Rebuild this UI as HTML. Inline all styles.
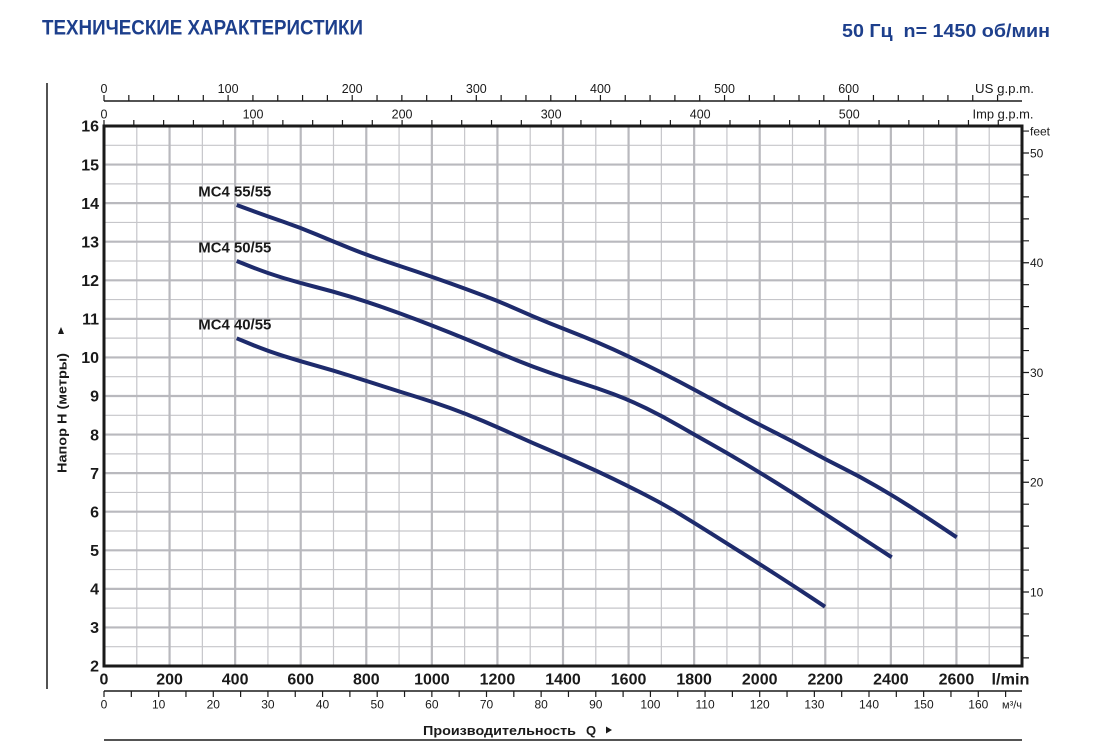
<!DOCTYPE html>
<html><head><meta charset="utf-8"><style>
html,body{margin:0;padding:0;background:#fff;}
svg{display:block;}
text{font-family:"Liberation Sans",Arial,sans-serif;fill:#1a1a1a;}
.t{fill:#1d3f8c;font-weight:bold;}
.yl{font-size:16px;font-weight:bold;text-anchor:end;}
.xl{font-size:16px;font-weight:bold;text-anchor:middle;}
.sm{font-size:12px;text-anchor:middle;}
.tp{font-size:12.5px;text-anchor:middle;}
.ft{font-size:12px;}
.mc{font-size:14.5px;font-weight:bold;}
</style></head><body>
<svg width="1100" height="750" viewBox="0 0 1100 750" xmlns="http://www.w3.org/2000/svg">
<rect width="1100" height="750" fill="#fff"/>
<text class="t" x="42" y="34.5" font-size="21" textLength="321" lengthAdjust="spacingAndGlyphs">ТЕХНИЧЕСКИЕ ХАРАКТЕРИСТИКИ</text>
<text class="t" x="842" y="37" font-size="18.5" textLength="208" lengthAdjust="spacingAndGlyphs" xml:space="preserve">50 Гц  n= 1450 об/мин</text>

<!-- left vertical line -->
<line x1="47" y1="83" x2="47" y2="689" stroke="#1a1a1a" stroke-width="1.5"/>

<!-- grid -->
<g stroke="#c6c6ca" stroke-width="1.2">
<line x1="136.79" y1="126" x2="136.79" y2="666"/><line x1="202.36" y1="126" x2="202.36" y2="666"/><line x1="267.93" y1="126" x2="267.93" y2="666"/><line x1="333.5" y1="126" x2="333.5" y2="666"/><line x1="399.07" y1="126" x2="399.07" y2="666"/><line x1="464.64" y1="126" x2="464.64" y2="666"/><line x1="530.21" y1="126" x2="530.21" y2="666"/><line x1="595.79" y1="126" x2="595.79" y2="666"/><line x1="661.36" y1="126" x2="661.36" y2="666"/><line x1="726.93" y1="126" x2="726.93" y2="666"/><line x1="792.5" y1="126" x2="792.5" y2="666"/><line x1="858.07" y1="126" x2="858.07" y2="666"/><line x1="923.64" y1="126" x2="923.64" y2="666"/><line x1="989.21" y1="126" x2="989.21" y2="666"/>
<line x1="104" y1="646.71" x2="1022" y2="646.71"/><line x1="104" y1="608.14" x2="1022" y2="608.14"/><line x1="104" y1="569.57" x2="1022" y2="569.57"/><line x1="104" y1="531" x2="1022" y2="531"/><line x1="104" y1="492.43" x2="1022" y2="492.43"/><line x1="104" y1="453.86" x2="1022" y2="453.86"/><line x1="104" y1="415.29" x2="1022" y2="415.29"/><line x1="104" y1="376.71" x2="1022" y2="376.71"/><line x1="104" y1="338.14" x2="1022" y2="338.14"/><line x1="104" y1="299.57" x2="1022" y2="299.57"/><line x1="104" y1="261" x2="1022" y2="261"/><line x1="104" y1="222.43" x2="1022" y2="222.43"/><line x1="104" y1="183.86" x2="1022" y2="183.86"/><line x1="104" y1="145.29" x2="1022" y2="145.29"/>
</g>
<g stroke="#b9b9be" stroke-width="2.2">
<line x1="169.57" y1="126" x2="169.57" y2="666"/><line x1="235.14" y1="126" x2="235.14" y2="666"/><line x1="300.71" y1="126" x2="300.71" y2="666"/><line x1="366.29" y1="126" x2="366.29" y2="666"/><line x1="431.86" y1="126" x2="431.86" y2="666"/><line x1="497.43" y1="126" x2="497.43" y2="666"/><line x1="563" y1="126" x2="563" y2="666"/><line x1="628.57" y1="126" x2="628.57" y2="666"/><line x1="694.14" y1="126" x2="694.14" y2="666"/><line x1="759.71" y1="126" x2="759.71" y2="666"/><line x1="825.29" y1="126" x2="825.29" y2="666"/><line x1="890.86" y1="126" x2="890.86" y2="666"/><line x1="956.43" y1="126" x2="956.43" y2="666"/>
<line x1="104" y1="627.43" x2="1022" y2="627.43"/><line x1="104" y1="588.86" x2="1022" y2="588.86"/><line x1="104" y1="550.29" x2="1022" y2="550.29"/><line x1="104" y1="511.71" x2="1022" y2="511.71"/><line x1="104" y1="473.14" x2="1022" y2="473.14"/><line x1="104" y1="434.57" x2="1022" y2="434.57"/><line x1="104" y1="396" x2="1022" y2="396"/><line x1="104" y1="357.43" x2="1022" y2="357.43"/><line x1="104" y1="318.86" x2="1022" y2="318.86"/><line x1="104" y1="280.29" x2="1022" y2="280.29"/><line x1="104" y1="241.71" x2="1022" y2="241.71"/><line x1="104" y1="203.14" x2="1022" y2="203.14"/><line x1="104" y1="164.57" x2="1022" y2="164.57"/>
</g>

<!-- plot border -->
<rect x="104" y="126" width="918" height="540" fill="none" stroke="#1a1a1a" stroke-width="3"/>

<!-- top US gpm axis -->
<line x1="104" y1="101" x2="1022" y2="101" stroke="#1a1a1a" stroke-width="1.5"/>
<path stroke="#1a1a1a" stroke-width="1.2" d="M104 95V101M128.82 95V101M153.64 95V101M178.46 95V101M203.29 95V101M228.11 95V101M252.93 95V101M277.75 95V101M302.57 95V101M327.39 95V101M352.21 95V101M377.04 95V101M401.86 95V101M426.68 95V101M451.5 95V101M476.32 95V101M501.14 95V101M525.96 95V101M550.79 95V101M575.61 95V101M600.43 95V101M625.25 95V101M650.07 95V101M674.89 95V101M699.71 95V101M724.54 95V101M749.36 95V101M774.18 95V101M799 95V101M823.82 95V101M848.64 95V101M873.46 95V101M898.29 95V101M923.11 95V101M947.93 95V101M972.75 95V101M997.57 95V101"/>
<text class="tp" x="104" y="93">0</text><text class="tp" x="228.11" y="93">100</text><text class="tp" x="352.21" y="93">200</text><text class="tp" x="476.32" y="93">300</text><text class="tp" x="600.43" y="93">400</text><text class="tp" x="724.54" y="93">500</text><text class="tp" x="848.64" y="93">600</text>
<text x="975" y="93" font-size="12.5" textLength="59" lengthAdjust="spacingAndGlyphs">US g.p.m.</text>

<!-- top Imp gpm axis -->
<path stroke="#1a1a1a" stroke-width="1.2" d="M104 120V126M133.81 120V126M163.62 120V126M193.43 120V126M223.24 120V126M253.05 120V126M282.86 120V126M312.66 120V126M342.47 120V126M372.28 120V126M402.09 120V126M431.9 120V126M461.71 120V126M491.52 120V126M521.33 120V126M551.14 120V126M580.95 120V126M610.76 120V126M640.57 120V126M670.38 120V126M700.18 120V126M729.99 120V126M759.8 120V126M789.61 120V126M819.42 120V126M849.23 120V126M879.04 120V126M908.85 120V126M938.66 120V126M968.47 120V126M998.28 120V126"/>
<text class="tp" x="104" y="118.3">0</text><text class="tp" x="253.05" y="118.3">100</text><text class="tp" x="402.09" y="118.3">200</text><text class="tp" x="551.14" y="118.3">300</text><text class="tp" x="700.18" y="118.3">400</text><text class="tp" x="849.23" y="118.3">500</text>
<text x="972.5" y="118.3" font-size="12.5" textLength="61" lengthAdjust="spacingAndGlyphs">Imp g.p.m.</text>

<!-- left y labels -->
<text class="yl" x="99" y="671.7">2</text><text class="yl" x="99" y="633.1">3</text><text class="yl" x="99" y="594.6">4</text><text class="yl" x="99" y="556">5</text><text class="yl" x="99" y="517.4">6</text><text class="yl" x="99" y="478.8">7</text><text class="yl" x="99" y="440.3">8</text><text class="yl" x="99" y="401.7">9</text><text class="yl" x="99" y="363.1">10</text><text class="yl" x="99" y="324.6">11</text><text class="yl" x="99" y="286">12</text><text class="yl" x="99" y="247.4">13</text><text class="yl" x="99" y="208.8">14</text><text class="yl" x="99" y="170.3">15</text><text class="yl" x="99" y="131.7">16</text>

<!-- y axis title -->
<text transform="translate(66.5,473) rotate(-90)" x="0" y="0" font-size="12.5" font-weight="bold" textLength="120" lengthAdjust="spacingAndGlyphs">Напор H (метры)</text>
<polygon points="58,334 64,334 61,327" fill="#1a1a1a"/>

<!-- right feet axis -->
<path stroke="#1a1a1a" stroke-width="1.2" d="M1022 657.85H1029M1022 635.9H1029M1022 613.95H1029M1022 592H1029M1022 570.05H1029M1022 548.1H1029M1022 526.15H1029M1022 504.2H1029M1022 482.25H1029M1022 460.3H1029M1022 438.35H1029M1022 416.4H1029M1022 394.45H1029M1022 372.5H1029M1022 350.55H1029M1022 328.6H1029M1022 306.65H1029M1022 284.7H1029M1022 262.75H1029M1022 240.8H1029M1022 218.85H1029M1022 196.9H1029M1022 174.95H1029M1022 153H1029M1022 131.05H1029"/>
<text class="ft" x="1030" y="135.3">feet</text>
<text class="ft" x="1030" y="157.3">50</text><text class="ft" x="1030" y="267">40</text><text class="ft" x="1030" y="376.8">30</text><text class="ft" x="1030" y="486.5">20</text><text class="ft" x="1030" y="596.3">10</text>

<!-- bottom l/min labels -->
<text class="xl" x="104" y="684.5">0</text><text class="xl" x="169.57" y="684.5">200</text><text class="xl" x="235.14" y="684.5">400</text><text class="xl" x="300.71" y="684.5">600</text><text class="xl" x="366.29" y="684.5">800</text><text class="xl" x="431.86" y="684.5">1000</text><text class="xl" x="497.43" y="684.5">1200</text><text class="xl" x="563" y="684.5">1400</text><text class="xl" x="628.57" y="684.5">1600</text><text class="xl" x="694.14" y="684.5">1800</text><text class="xl" x="759.71" y="684.5">2000</text><text class="xl" x="825.29" y="684.5">2200</text><text class="xl" x="890.86" y="684.5">2400</text><text class="xl" x="956.43" y="684.5">2600</text>
<text x="991.5" y="684.5" font-size="16" font-weight="bold" textLength="38" lengthAdjust="spacingAndGlyphs">l/min</text>

<!-- m3/h axis -->
<line x1="104" y1="691" x2="1022" y2="691" stroke="#1a1a1a" stroke-width="1.5"/>
<path stroke="#1a1a1a" stroke-width="1.2" d="M104 691V697M131.32 691V697M158.64 691V697M185.96 691V697M213.29 691V697M240.61 691V697M267.93 691V697M295.25 691V697M322.57 691V697M349.89 691V697M377.21 691V697M404.54 691V697M431.86 691V697M459.18 691V697M486.5 691V697M513.82 691V697M541.14 691V697M568.46 691V697M595.79 691V697M623.11 691V697M650.43 691V697M677.75 691V697M705.07 691V697M732.39 691V697M759.71 691V697M787.04 691V697M814.36 691V697M841.68 691V697M869 691V697M896.32 691V697M923.64 691V697M950.96 691V697M978.29 691V697M1005.61 691V697"/>
<text class="sm" x="104" y="708.5">0</text><text class="sm" x="158.64" y="708.5">10</text><text class="sm" x="213.29" y="708.5">20</text><text class="sm" x="267.93" y="708.5">30</text><text class="sm" x="322.57" y="708.5">40</text><text class="sm" x="377.21" y="708.5">50</text><text class="sm" x="431.86" y="708.5">60</text><text class="sm" x="486.5" y="708.5">70</text><text class="sm" x="541.14" y="708.5">80</text><text class="sm" x="595.79" y="708.5">90</text><text class="sm" x="650.43" y="708.5">100</text><text class="sm" x="705.07" y="708.5">110</text><text class="sm" x="759.71" y="708.5">120</text><text class="sm" x="814.36" y="708.5">130</text><text class="sm" x="869" y="708.5">140</text><text class="sm" x="923.64" y="708.5">150</text><text class="sm" x="978.29" y="708.5">160</text>
<text x="1002" y="708.5" font-size="11">м³/ч</text>

<!-- x axis title -->
<text x="423" y="735" font-size="13" font-weight="bold" textLength="153" lengthAdjust="spacingAndGlyphs">Производительность</text>
<text x="586" y="735" font-size="13" font-weight="bold">Q</text>
<polygon points="606,726.5 606,733.5 612,730" fill="#1a1a1a"/>
<line x1="104" y1="740" x2="1022" y2="740" stroke="#1a1a1a" stroke-width="1.5"/>

<!-- curves -->
<g fill="none" stroke="#1e2b6c" stroke-width="4" stroke-linejoin="round" stroke-linecap="butt">
<path d="M236.7,205 L251.7,210.5 Q266.7,216 283.35,221.75 Q300,227.5 316.65,234.5 Q333.3,241.5 350,248.25 Q366.7,255 383.35,260.5 Q400,266 416.65,271.65 Q433.3,277.3 450,283.3 Q466.7,289.3 483.35,295.5 Q500,301.7 516.65,309.2 Q533.3,316.7 550,323.35 Q566.7,330 581.85,336 Q597,342 613.15,349.35 Q629.3,356.7 646.3,365 Q663.3,373.3 679.15,381.65 Q695,390 710.85,398.65 Q726.7,407.3 743.35,416.15 Q760,425 776.65,433.35 Q793.3,441.7 810,450.85 Q826.7,460 843.35,468.35 Q860,476.7 875.85,485.85 Q891.7,495 907.5,505 Q923.3,515 940,526.15 L956.7,537.3"/>
<path d="M236.7,261 L251.7,267 Q266.7,273 283.35,278 Q300,283 316.65,287.25 Q333.3,291.5 350,296.6 Q366.7,301.7 383.35,307.5 Q400,313.3 416.65,319.65 Q433.3,326 450,332.65 Q466.7,339.3 483.35,346.4 Q500,353.5 516.65,360.25 Q533.3,367 550,372.75 Q566.7,378.5 581.85,383.25 Q597,388 613.15,394 Q629.3,400 646.3,408.35 Q663.3,416.7 679.15,425.85 Q695,435 710.85,443.85 Q726.7,452.7 743.35,462.7 Q760,472.7 776.65,483 Q793.3,493.3 810,504.15 Q826.7,515 843.35,525.85 Q860,536.7 875.85,547 L891.7,557.3"/>
<path d="M236.7,338.3 L251.7,344.5 Q266.7,350.7 283.35,355.95 Q300,361.2 316.65,365.85 Q333.3,370.5 350,375.75 Q366.7,381 383.35,386.35 Q400,391.7 416.65,396.85 Q433.3,402 450,408 Q466.7,414 483.35,421.15 Q500,428.3 516.65,435.8 Q533.3,443.3 550,450.4 Q566.7,457.5 581.85,464.25 Q597,471 613.15,478.85 Q629.3,486.7 646.3,495.35 Q663.3,504 679.15,513.65 Q695,523.3 710.85,533.3 Q726.7,543.3 743.35,553.8 Q760,564.3 776.65,575 Q793.3,585.7 809.15,596.2 L825,606.7"/>
</g>
<text class="mc" x="198.3" y="196.7" textLength="73" lengthAdjust="spacingAndGlyphs">MC4 55/55</text>
<text class="mc" x="198.3" y="252.3" textLength="73" lengthAdjust="spacingAndGlyphs">MC4 50/55</text>
<text class="mc" x="198.3" y="329.3" textLength="73" lengthAdjust="spacingAndGlyphs">MC4 40/55</text>
</svg>
</body></html>
